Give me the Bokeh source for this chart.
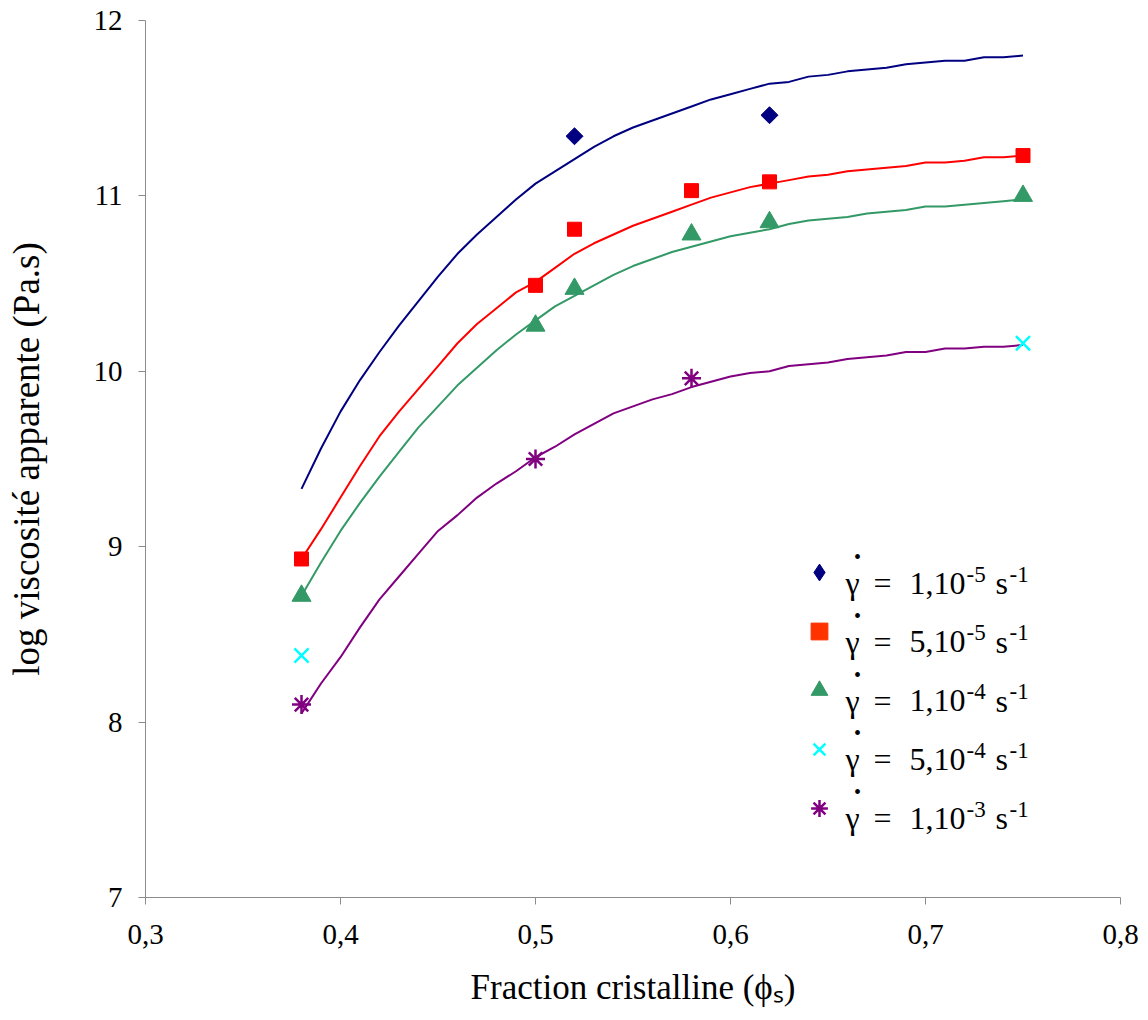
import math
from bokeh.plotting import figure
from bokeh.models import FixedTicker, CustomJSTickFormatter, Legend, LegendItem, Label
from bokeh.embed import file_html
from bokeh.resources import INLINE

# ---- fitted model curves ----
phi_fit = [0.38, 0.39, 0.40, 0.41, 0.42, 0.43, 0.44, 0.45, 0.46, 0.47,
           0.48, 0.49, 0.50, 0.51, 0.52, 0.53, 0.54, 0.55, 0.56, 0.57,
           0.58, 0.59, 0.60, 0.61, 0.62, 0.63, 0.64, 0.65, 0.66, 0.67,
           0.68, 0.69, 0.70, 0.71, 0.72, 0.73, 0.74, 0.75]
fit_1e5 = [9.33, 9.56, 9.77, 9.95, 10.11, 10.26, 10.40, 10.54, 10.67, 10.78,
           10.88, 10.98, 11.07, 11.14, 11.21, 11.28, 11.34, 11.39, 11.43, 11.47,
           11.51, 11.55, 11.58, 11.61, 11.64, 11.65, 11.68, 11.69, 11.71, 11.72,
           11.73, 11.75, 11.76, 11.77, 11.77, 11.79, 11.79, 11.80]
fit_5e5 = [8.93, 9.10, 9.28, 9.46, 9.63, 9.77, 9.90, 10.03, 10.16, 10.27,
           10.36, 10.45, 10.51, 10.59, 10.67, 10.73, 10.78, 10.83, 10.87, 10.91,
           10.95, 10.99, 11.02, 11.05, 11.07, 11.09, 11.11, 11.12, 11.14, 11.15,
           11.16, 11.17, 11.19, 11.19, 11.20, 11.22, 11.22, 11.23]
fit_1e4 = [8.72, 8.91, 9.09, 9.25, 9.40, 9.54, 9.68, 9.80, 9.92, 10.02,
           10.12, 10.21, 10.29, 10.37, 10.43, 10.49, 10.55, 10.60, 10.64, 10.68,
           10.71, 10.74, 10.77, 10.79, 10.81, 10.84, 10.86, 10.87, 10.88, 10.90,
           10.91, 10.92, 10.94, 10.94, 10.95, 10.96, 10.97, 10.98]
fit_1e3 = [8.05, 8.22, 8.37, 8.54, 8.70, 8.83, 8.96, 9.09, 9.18, 9.28,
           9.36, 9.43, 9.51, 9.57, 9.64, 9.70, 9.76, 9.80, 9.84, 9.87,
           9.91, 9.94, 9.97, 9.99, 10.00, 10.03, 10.04, 10.05, 10.07, 10.08,
           10.09, 10.11, 10.11, 10.13, 10.13, 10.14, 10.14, 10.15]

# ---- measured points ----
phi_1e5 = [0.52, 0.62]
visc_1e5 = [11.34, 11.46]
phi_5e5 = [0.38, 0.50, 0.52, 0.58, 0.62, 0.75]
visc_5e5 = [8.93, 10.49, 10.81, 11.03, 11.08, 11.23]
phi_1e4 = [0.38, 0.50, 0.52, 0.58, 0.62, 0.75]
visc_1e4 = [8.72, 10.26, 10.47, 10.78, 10.85, 11.00]
phi_5e4 = [0.38, 0.75]
visc_5e4 = [8.38, 10.16]
phi_1e3 = [0.38, 0.50, 0.58]
visc_1e3 = [8.10, 9.50, 9.96]

x_ticks = [0.3, 0.4, 0.5, 0.6, 0.7, 0.8]
y_ticks = [7, 8, 9, 10, 11, 12]

# legend texts: shear rate = mantissa,10^exponent s^-1
rate_symbol = "\u03b3"
rate_mantissa = ["1,10", "5,10", "1,10", "5,10", "1,10"]
rate_exponent = ["-5", "-5", "-4", "-4", "-3"]
unit_text = "s"
unit_exponent = "-1"

x_title = "Fraction cristalline (\u03d5\u209b)"
y_title = "log viscosit\u00e9 apparente (Pa.s)"

NAVY = "#000080"
RED = "#ff0000"
ORANGE_RED = "#ff3300"
GREEN = "#339966"
CYAN = "#00ffff"
PURPLE = "#800080"
FONT = "Liberation Serif"
AXIS_GRAY = "#8c8c8c"
NAN = float("nan")

p = figure(frame_width=975, frame_height=877,
           min_border_left=145, min_border_right=20,
           min_border_top=20, min_border_bottom=122,
           x_range=(0.3, 0.8), y_range=(7, 12),
           output_backend="svg", toolbar_location=None)
p.outline_line_color = None
p.grid.visible = False
p.background_fill_color = "white"
p.border_fill_color = "white"

# curves
p.line(phi_fit, fit_1e5, line_color=NAVY, line_width=2)
p.line(phi_fit, fit_5e5, line_color=RED, line_width=2)
p.line(phi_fit, fit_1e4, line_color=GREEN, line_width=2)
p.line(phi_fit, fit_1e3, line_color=PURPLE, line_width=2)

# markers
p.scatter(phi_1e5, visc_1e5, marker="square", angle=math.pi / 4, size=12,
          fill_color=NAVY, line_color=NAVY)
p.scatter(phi_5e5, visc_5e5, marker="square", size=14,
          fill_color=RED, line_color=RED)
r3 = p.scatter(phi_1e4, visc_1e4, marker="triangle", size=19,
               fill_color=GREEN, line_color=GREEN)
r4 = p.scatter(phi_5e4, visc_5e4, marker="x", size=20,
               line_color=CYAN, line_width=2.5)
r5 = p.scatter(phi_1e3, visc_1e3, marker="asterisk", size=19,
               line_color=PURPLE, line_width=2.5)

# legend-only glyph styles (a single NaN point, never drawn in the plot)
lg1 = p.scatter([NAN], [NAN], marker="diamond", fill_color=NAVY, line_color=NAVY)
lg2 = p.scatter([NAN], [NAN], marker="square", fill_color=ORANGE_RED, line_color=ORANGE_RED)

# axes
p.xaxis.ticker = FixedTicker(ticks=x_ticks)
p.yaxis.ticker = FixedTicker(ticks=y_ticks)
p.xaxis.formatter = CustomJSTickFormatter(code="return tick.toFixed(1).replace('.', ',');")
p.yaxis.formatter = CustomJSTickFormatter(code="return tick.toFixed(0);")
for ax in (p.xaxis[0], p.yaxis[0]):
    ax.axis_line_color = AXIS_GRAY
    ax.major_tick_line_color = AXIS_GRAY
    ax.major_tick_out = 7
    ax.major_tick_in = 0
    ax.minor_tick_line_color = None
    ax.major_label_text_font = FONT
    ax.major_label_text_font_size = "29px"
    ax.major_label_text_color = "black"
    ax.axis_label_text_font = FONT
    ax.axis_label_text_font_style = "normal"
    ax.axis_label_text_color = "black"
p.xaxis.major_label_standoff = 20
p.yaxis.major_label_standoff = 16

p.xaxis.axis_label = x_title
p.xaxis.axis_label_text_font_size = "35px"
p.xaxis.axis_label_standoff = 21

p.yaxis.axis_label = y_title
p.yaxis.axis_label_text_font_size = "37px"
p.yaxis.axis_label_standoff = 44

# legend: markers via Legend, texts via labels (superscripts)
legend = Legend(items=[LegendItem(label=" ", renderers=[r]) for r in (lg1, lg2, r3, r4, r5)],
                location=(653, 68),
                glyph_width=42, glyph_height=42, label_height=42,
                spacing=17, padding=0, margin=0, label_standoff=0,
                label_text_font=FONT, label_text_font_size="10px",
                border_line_alpha=0, background_fill_alpha=0)
p.add_layout(legend)

row_pitch = 58.75
first_center = 325.3  # screen y (from frame bottom) of the first legend row
common = dict(x_units="screen", y_units="screen", text_font=FONT,
              text_color="black", text_baseline="alphabetic")
for i in range(5):
    yc = first_center - row_pitch * i
    base = yc - 11
    p.add_layout(Label(x=700, y=base, text=rate_symbol, text_align="left",
                       text_font_size="32px", **common))
    p.add_layout(Label(x=712, y=yc + 15, text="\u2022", text_align="center",
                       text_font_size="20px", x_units="screen", y_units="screen",
                       text_font=FONT, text_color="black", text_baseline="middle"))
    p.add_layout(Label(x=728, y=base, text="=", text_align="left",
                       text_font_size="32px", **common))
    p.add_layout(Label(x=764, y=base, text=rate_mantissa[i], text_align="left",
                       text_font_size="32px", **common))
    p.add_layout(Label(x=821, y=base + 9, text=rate_exponent[i], text_align="left",
                       text_font_size="23px", **common))
    p.add_layout(Label(x=850, y=base, text=unit_text, text_align="left",
                       text_font_size="32px", **common))
    p.add_layout(Label(x=864, y=base + 9, text=unit_exponent, text_align="left",
                       text_font_size="23px", **common))

open("out.html", "w").write(file_html(p, INLINE))
